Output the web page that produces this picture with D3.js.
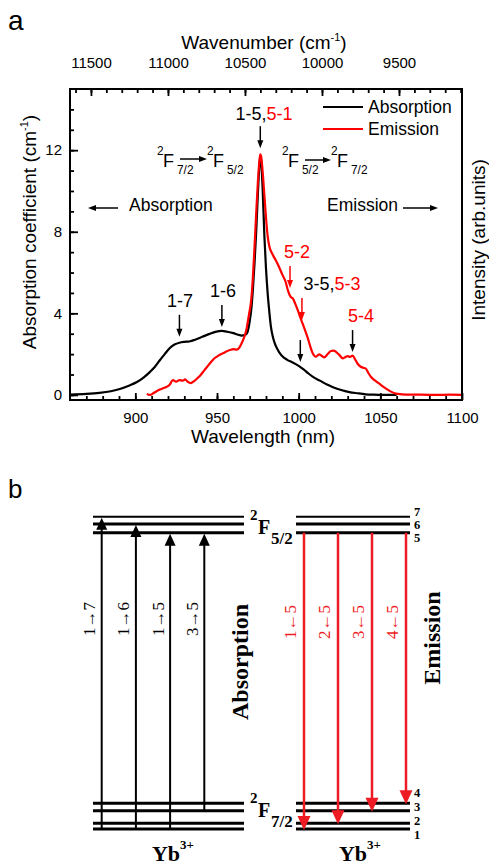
<!DOCTYPE html>
<html>
<head>
<meta charset="utf-8">
<script src="https://cdn.jsdelivr.net/npm/d3@7"></script>
<style>
  body { margin: 0; background: #fff; }
  svg { display: block; }
</style>
</head>
<body>
<div id="chart"></div>
<script>
// ---- panel a data ----
const absWl = [860, 870, 878, 885, 891, 896, 901, 905, 909, 912, 915, 918, 921, 924, 927, 930, 933, 937, 941, 945, 949, 953, 956, 960, 963, 965, 967, 968.5, 970, 971, 972, 973, 974, 975, 976, 976.5, 977, 978, 979, 980, 981, 982, 983, 984.5, 986, 988, 990, 993, 996, 1000, 1003, 1006, 1009, 1013, 1017, 1021, 1026, 1031, 1036, 1041, 1046, 1051, 1056, 1060];
const absVal = [0.02, 0.05, 0.1, 0.18, 0.3, 0.45, 0.63, 0.85, 1.13, 1.38, 1.7, 2.0, 2.29, 2.47, 2.56, 2.6, 2.62, 2.72, 2.85, 2.98, 3.09, 3.14, 3.1, 3.03, 2.95, 2.91, 2.93, 3.05, 3.6, 4.2, 5.2, 6.5, 8.0, 9.8, 11.3, 11.7, 11.5, 10.0, 7.8, 6.2, 5.0, 4.1, 3.35, 2.75, 2.4, 2.1, 1.9, 1.72, 1.6, 1.42, 1.25, 1.05, 0.87, 0.7, 0.52, 0.38, 0.24, 0.14, 0.08, 0.03, 0.01, 0.0, 0.0, 0.0];

const emWl = [907, 909, 911, 913, 915, 917, 919, 921, 923, 925, 927, 929, 930.5, 932, 934, 936, 938, 940, 942, 944, 946, 948, 950, 952, 954, 956, 958, 960, 962, 963.5, 965, 966.5, 968, 969.5, 971, 972, 973, 974, 975, 976, 976.5, 977, 978, 979, 980, 981, 982, 984, 986, 988, 990, 992, 993.5, 995, 996.5, 998, 999.5, 1001, 1002.5, 1004, 1005.5, 1007, 1008.6, 1010.5, 1012.5, 1014, 1015.7, 1017.5, 1019.8, 1021.5, 1023, 1025, 1027, 1028.5, 1030, 1031.5, 1033, 1034.5, 1036, 1038, 1039.5, 1041, 1042.5, 1044.3, 1046.5, 1049.4, 1051.5, 1053.5, 1056.5, 1059.6, 1063, 1068, 1075, 1085, 1092, 1100];
const emVal = [0.05, 0.0, 0.08, 0.18, 0.26, 0.33, 0.39, 0.5, 0.72, 0.65, 0.72, 0.7, 0.76, 0.65, 0.58, 0.68, 0.82, 0.98, 1.18, 1.38, 1.58, 1.76, 1.88, 1.98, 2.05, 2.14, 2.2, 2.24, 2.22, 2.3, 2.52, 2.8, 3.2, 3.9, 4.7, 5.8, 7.3, 8.9, 10.4, 11.5, 11.8, 11.7, 10.9, 9.8, 8.7, 7.8, 7.3, 6.9, 6.6, 6.27, 5.9, 5.55, 5.1, 4.82, 4.72, 4.45, 4.14, 3.8, 3.48, 3.15, 2.81, 2.4, 2.04, 1.87, 1.99, 1.92, 1.84, 1.98, 2.15, 2.17, 2.1, 1.95, 1.79, 1.85, 1.9, 1.86, 1.93, 1.75, 1.54, 1.38, 1.33, 1.3, 1.1, 0.88, 0.72, 0.55, 0.42, 0.31, 0.16, 0.06, 0.03, 0.01, 0.01, 0.0, 0.01, 0.0];

const wavelengthTicks = [900, 950, 1000, 1050, 1100];
const wavenumberTicks = [11500, 11000, 10500, 10000, 9500];
const coefTicks = [0, 4, 8, 12];
const legendNames = ["Absorption", "Emission"];

// ---- panel b data ----
const levelNames = [1, 2, 3, 4, 5, 6, 7];
const levelHeights = [0, 0.57, 1.83, 2.57, 29.63, 30.5, 31.23]; // schematic, not to scale
const upperLevels = [7, 6, 5];
const lowerLevels = [4, 3, 2, 1];
const absorbTransitions = [[1, 7], [1, 6], [1, 5], [3, 5]];
const emitTransitions = [[5, 1], [5, 2], [5, 3], [5, 4]];

const W = 489, H = 867;
const RED = "#ff0000", RED_B = "#ed1c24";
const sans = "'Liberation Sans', Arial, sans-serif";
const serif = "'Liberation Serif', 'Times New Roman', serif";

const svg = d3.select("#chart").append("svg")
  .attr("width", W).attr("height", H)
  .attr("viewBox", `0 0 ${W} ${H}`);

// arrow helper: line from (x1,y1) to tip (x2,y2) with filled head
function arrow(g, x1, y1, x2, y2, color, hl, hw, sw) {
  const a = Math.atan2(y2 - y1, x2 - x1);
  const bx = x2 - hl * Math.cos(a), by = y2 - hl * Math.sin(a);
  g.append("line").attr("x1", x1).attr("y1", y1).attr("x2", bx + Math.cos(a)).attr("y2", by + Math.sin(a))
    .attr("stroke", color).attr("stroke-width", sw);
  const px = -Math.sin(a) * hw / 2, py = Math.cos(a) * hw / 2;
  g.append("path")
    .attr("d", `M${x2},${y2}L${bx + px},${by + py}L${bx - px},${by - py}Z`)
    .attr("fill", color);
}

/* ================= PANEL A ================= */
const box = { left: 70, right: 462, top: 89, bottom: 400 };
const x = d3.scaleLinear().domain([860, 1100]).range([box.left, box.right]);
const y = d3.scaleLinear().domain([-0.25, 15]).range([box.bottom, box.top]);
const xTop = d3.scaleLinear().domain([11636, 9091]).range([box.left, box.right]);
const fmt = d3.format("d");

const ga = svg.append("g").attr("font-family", sans);

// minor ticks
ga.append("g").attr("transform", `translate(0,${box.bottom})`)
  .call(d3.axisBottom(x).tickValues(d3.range(870, 1100, 10)).tickSizeInner(-4).tickSizeOuter(0).tickFormat(""));
ga.append("g").attr("transform", `translate(0,${box.top})`)
  .call(d3.axisTop(xTop).tickValues(d3.range(11600, 9090, -100)).tickSizeInner(-4).tickSizeOuter(0).tickFormat(""));
ga.append("g").attr("transform", `translate(${box.left},0)`)
  .call(d3.axisLeft(y).tickValues(d3.range(0, 15, 1)).tickSizeInner(-4).tickSizeOuter(0).tickFormat(""));

// major ticks + labels
ga.append("g").attr("transform", `translate(0,${box.bottom})`)
  .call(d3.axisBottom(x).tickValues(wavelengthTicks).tickFormat(fmt).tickSizeInner(-7).tickSizeOuter(0).tickPadding(12));
ga.append("g").attr("transform", `translate(0,${box.top})`)
  .call(d3.axisTop(xTop).tickValues(wavenumberTicks).tickFormat(fmt).tickSizeInner(-7).tickSizeOuter(0).tickPadding(21));
ga.append("g").attr("transform", `translate(${box.left},0)`)
  .call(d3.axisLeft(y).tickValues(coefTicks).tickFormat(fmt).tickSizeInner(-8).tickSizeOuter(0).tickPadding(8));

ga.selectAll(".domain").remove();
ga.selectAll(".tick line").attr("stroke", "#000").attr("stroke-width", 1.8);
ga.selectAll(".tick text").attr("font-family", sans).attr("font-size", 15).attr("fill", "#000");

// curves
const line = d3.line().x(d => x(d[0])).y(d => y(d[1])).curve(d3.curveMonotoneX);
ga.append("path")
  .datum(absWl.map((w, i) => [w, absVal[i]]))
  .attr("d", line)
  .attr("fill", "none").attr("stroke", "#000").attr("stroke-width", 2.2);
ga.append("path")
  .datum(emWl.map((w, i) => [w, emVal[i]]))
  .attr("d", line)
  .attr("fill", "none").attr("stroke", RED).attr("stroke-width", 2.2);

// frame
ga.append("rect")
  .attr("x", box.left).attr("y", box.top)
  .attr("width", box.right - box.left).attr("height", box.bottom - box.top)
  .attr("fill", "none").attr("stroke", "#000").attr("stroke-width", 2);

// axis titles
ga.append("text").attr("x", 8).attr("y", 30).attr("font-size", 28).text("a");
const topTitle = ga.append("text").attr("x", 264).attr("y", 49).attr("text-anchor", "middle").attr("font-size", 19);
topTitle.append("tspan").text("Wavenumber (cm");
topTitle.append("tspan").attr("font-size", 11).attr("dy", -8).text("-1");
topTitle.append("tspan").attr("dy", 8).text(")");
ga.append("text").attr("x", 263).attr("y", 443).attr("text-anchor", "middle").attr("font-size", 19).text("Wavelength (nm)");
const yTitle = ga.append("text").attr("transform", "translate(36,232) rotate(-90)").attr("text-anchor", "middle").attr("font-size", 19);
yTitle.append("tspan").text("Absorption coefficient (cm");
yTitle.append("tspan").attr("font-size", 11).attr("dy", -8).text("-1");
yTitle.append("tspan").attr("dy", 8).text(")");
ga.append("text").attr("transform", "translate(485,240) rotate(-90)").attr("text-anchor", "middle").attr("font-size", 19)
  .text("Intensity (arb.units)");

// legend
legendNames.forEach((name, i) => {
  const ly = 107 + i * 22;
  ga.append("line").attr("x1", 323).attr("x2", 363).attr("y1", ly).attr("y2", ly)
    .attr("stroke", i ? RED : "#000").attr("stroke-width", 2.2);
  ga.append("text").attr("x", 368).attr("y", ly).attr("dy", "0.35em").attr("font-size", 17.5).text(name);
});

// direction hints
arrow(ga, 118, 208, 88, 208, "#000", 8, 6, 1.5);
ga.append("text").attr("x", 129).attr("y", 211).attr("font-size", 17.5).text("Absorption");
ga.append("text").attr("x", 327).attr("y", 211).attr("font-size", 17.5).text("Emission");
arrow(ga, 403, 208, 438, 208, "#000", 8, 6, 1.5);

// term symbols
function term(g, xF, base, sub, size) {
  g.append("text").attr("x", xF - 6).attr("y", base - 12).attr("font-size", size * 0.66).text("2");
  g.append("text").attr("x", xF).attr("y", base).attr("font-size", size).text("F");
  g.append("text").attr("x", xF + 14).attr("y", base + 7).attr("font-size", size * 0.66).text(sub);
}
term(ga, 163, 167, "7/2", 18);
arrow(ga, 180, 159, 207, 159, "#000", 8, 6, 1.5);
term(ga, 213, 167, "5/2", 18);
term(ga, 288, 167, "5/2", 18);
arrow(ga, 305, 160, 331, 160, "#000", 8, 6, 1.5);
term(ga, 337, 167, "7/2", 18);

// peak annotations
function peakArrow(wl, tip, color) {
  const px = x(wl), py = y(tip);
  arrow(ga, px, py - 22, px, py, color, 8, 6, 1.5);
}
function label(xc, base, parts) {
  const t = ga.append("text").attr("x", xc).attr("y", base).attr("text-anchor", "middle").attr("font-size", 18);
  parts.forEach(p => t.append("tspan").attr("fill", p[1]).text(p[0]));
}
peakArrow(927, 2.85, "#000"); label(180, 307, [["1-7", "#000"]]);
peakArrow(953, 3.33, "#000"); label(223, 297, [["1-6", "#000"]]);
peakArrow(976.5, 12.1, "#000"); label(264, 120, [["1-5,", "#000"], ["5-1", RED]]);
peakArrow(994.7, 5.24, RED); label(297, 258, [["5-2", RED]]);
peakArrow(1002, 3.67, RED); label(332, 290, [["3-5,", "#000"], ["5-3", RED]]);
peakArrow(1001, 1.61, "#000");
peakArrow(1033, 2.1, "#000"); label(361, 322, [["5-4", RED]]);

/* ================= PANEL B ================= */
const gb = svg.append("g").attr("font-family", serif);
gb.append("text").attr("x", 8).attr("y", 498).attr("font-family", sans).attr("font-size", 26).text("b");

const yL = d3.scaleLinear().domain([0, d3.max(levelHeights)]).range([829, 516.7]);
const hOf = n => levelHeights[levelNames.indexOf(n)];
const sides = [
  { x0: 93, x1: 244, ax: [101.7, 204.3] },
  { x0: 296, x1: 410, ax: [304, 406] }
];

// levels
sides.forEach(s => {
  gb.selectAll(null).data(levelNames).join("line")
    .attr("x1", s.x0).attr("x2", s.x1)
    .attr("y1", d => yL(hOf(d))).attr("y2", d => yL(hOf(d)))
    .attr("stroke", "#000").attr("stroke-width", d => d === 7 ? 2 : 3);
});

// absorption arrows
const xAbs = d3.scalePoint().domain(absorbTransitions.map(d => d.join("-"))).range(sides[0].ax);
absorbTransitions.forEach(t => {
  const ax = xAbs(t.join("-"));
  arrow(gb, ax, yL(hOf(t[0])), ax, yL(hOf(t[1])) + 1, "#000", 12, 11, 2);
  gb.append("text").attr("transform", `translate(${ax - 12},619) rotate(-90)`)
    .attr("text-anchor", "middle").attr("dominant-baseline", "central").attr("font-size", 17)
    .text(`${t[0]}→${t[1]}`);
});

// emission arrows
const xEm = d3.scalePoint().domain(emitTransitions.map(d => d.join("-"))).range(sides[1].ax);
emitTransitions.forEach(t => {
  const ax = xEm(t.join("-"));
  arrow(gb, ax, yL(hOf(t[0])), ax, yL(hOf(t[1])) + 1, RED_B, 14, 13, 2.5);
  gb.append("text").attr("transform", `translate(${ax - 14},622) rotate(-90)`)
    .attr("text-anchor", "middle").attr("dominant-baseline", "central").attr("font-size", 17)
    .attr("fill", RED_B).text(`${t[1]}←${t[0]}`);
});

// manifold labels
function termB(xF, base, sub) {
  gb.append("text").attr("x", xF - 8).attr("y", base - 14).attr("font-size", 15).attr("font-weight", "bold").text("2");
  gb.append("text").attr("x", xF).attr("y", base).attr("font-size", 20).attr("font-weight", "bold").text("F");
  gb.append("text").attr("x", xF + 13).attr("y", base + 10).attr("font-size", 17).attr("font-weight", "bold").text(sub);
}
termB(258, 534, "5/2");
termB(258, 817, "7/2");

// level numbers
const upLab = d3.scalePoint().domain(upperLevels).range([516, 542]);
const lowLab = d3.scalePoint().domain(lowerLevels).range([797, 839]);
gb.selectAll(null).data(upperLevels.concat(lowerLevels)).join("text")
  .attr("x", 414)
  .attr("y", d => d >= 5 ? upLab(d) : lowLab(d))
  .attr("font-size", 12.5).attr("font-weight", "bold").text(d => d);

// side titles
gb.append("text").attr("transform", "translate(240,662) rotate(-90)").attr("text-anchor", "middle")
  .attr("dominant-baseline", "central").attr("font-size", 24).attr("font-weight", "bold").text("Absorption");
gb.append("text").attr("transform", "translate(432,638) rotate(-90)").attr("text-anchor", "middle")
  .attr("dominant-baseline", "central").attr("font-size", 24).attr("font-weight", "bold").text("Emission");

// Yb3+ labels
[173, 360].forEach(cx => {
  const t = gb.append("text").attr("x", cx).attr("y", 861).attr("text-anchor", "middle")
    .attr("font-size", 22).attr("font-weight", "bold");
  t.append("tspan").text("Yb");
  t.append("tspan").attr("font-size", 13).attr("dy", -12).text("3+");
});
</script>
</body>
</html>
